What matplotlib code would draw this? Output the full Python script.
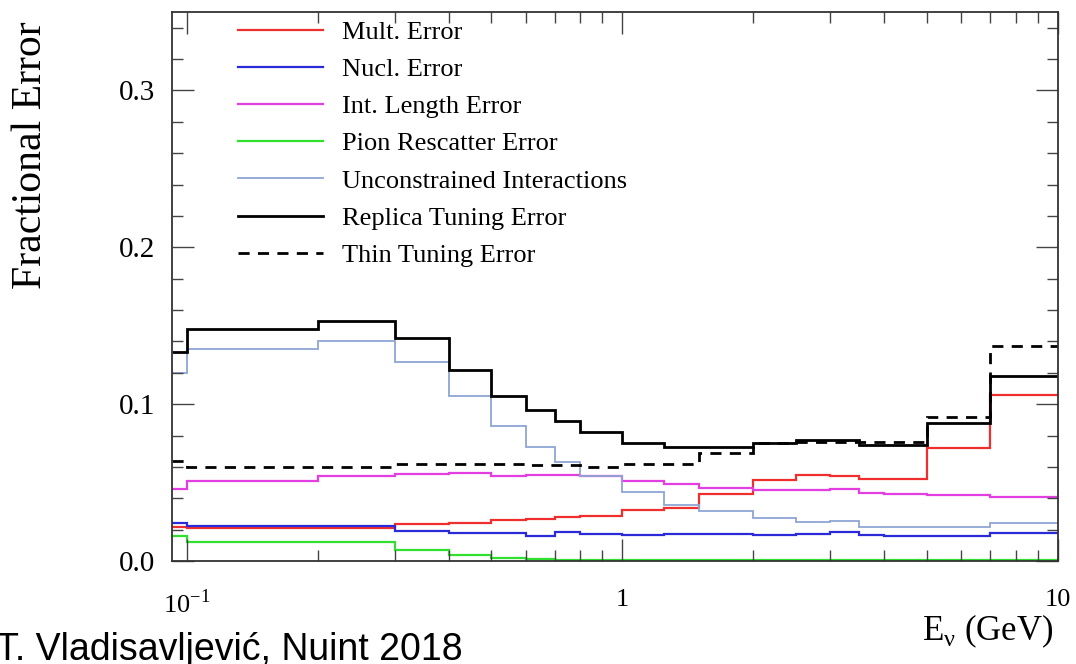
import matplotlib
matplotlib.use("Agg")
import matplotlib.pyplot as plt
from matplotlib.ticker import FixedLocator, FixedFormatter, LogLocator, MultipleLocator, NullFormatter

# bin edges in GeV (first edge is the left end of the axis)
EDGES = [0.0925, 0.1, 0.2, 0.3, 0.4, 0.5, 0.6, 0.7, 0.8, 1.0, 1.25, 1.5,
         2.0, 2.5, 3.0, 3.5, 4.0, 5.0, 7.0, 10.0]

mult_err = [0.0215, 0.021, 0.021, 0.0235, 0.024, 0.026, 0.027, 0.028, 0.029, 0.0325,
            0.034, 0.043, 0.0515, 0.055, 0.054, 0.052, 0.0525, 0.072, 0.106]
nucl_err = [0.024, 0.0225, 0.0225, 0.019, 0.018, 0.018, 0.016, 0.0185, 0.017, 0.0165,
            0.0175, 0.017, 0.0165, 0.017, 0.0185, 0.0165, 0.016, 0.016, 0.018]
int_len_err = [0.046, 0.051, 0.054, 0.0555, 0.056, 0.054, 0.055, 0.055, 0.054, 0.051,
               0.049, 0.0465, 0.045, 0.045, 0.046, 0.0435, 0.043, 0.042, 0.041]
pion_err = [0.016, 0.012, 0.012, 0.007, 0.004, 0.002, 0.0015, 0.001, 0.0008, 0.0006,
            0.0005, 0.0005, 0.0005, 0.0005, 0.0005, 0.0005, 0.0005, 0.0005, 0.0005]
unconstr = [0.120, 0.135, 0.140, 0.127, 0.105, 0.086, 0.073, 0.063, 0.054, 0.044,
            0.036, 0.032, 0.0275, 0.025, 0.0255, 0.022, 0.022, 0.0215, 0.024]
replica = [0.133, 0.148, 0.153, 0.142, 0.122, 0.105, 0.096, 0.089, 0.082, 0.075,
           0.073, 0.073, 0.075, 0.077, 0.077, 0.074, 0.074, 0.088, 0.118]
thin = [0.064, 0.060, 0.060, 0.062, 0.062, 0.062, 0.061, 0.061, 0.060, 0.062,
        0.062, 0.069, 0.075, 0.076, 0.076, 0.076, 0.076, 0.092, 0.137]

SERIES = [
    ("Mult. Error", mult_err, "#f02e2e", 1.6, "-"),
    ("Nucl. Error", nucl_err, "#2a2ad8", 1.6, "-"),
    ("Int. Length Error", int_len_err, "#e23ee2", 1.6, "-"),
    ("Pion Rescatter Error", pion_err, "#2fe02f", 1.6, "-"),
    ("Unconstrained Interactions", unconstr, "#8ea6d4", 1.3, "-"),
    ("Replica Tuning Error", replica, "#000000", 2.0, "-"),
    ("Thin Tuning Error", thin, "#000000", 2.0, (0, (4, 3))),
]

SERIF = ["Liberation Serif", "DejaVu Serif"]

fig = plt.figure(figsize=(10.76, 6.64), dpi=100)
ax = fig.add_axes([0.160, 0.155, 0.823, 0.827])

for label, vals, color, lw, ls in SERIES:
    ax.stairs(vals, EDGES, color=color, linewidth=lw, linestyle=ls, label=label,
              baseline=None)

ax.set_xscale("log")
ax.set_xlim(EDGES[0], EDGES[-1])
ax.set_ylim(0, 0.35)

ax.xaxis.set_major_locator(FixedLocator([0.1, 1, 10]))
ax.xaxis.set_major_formatter(FixedFormatter([r"10$^{\mathregular{-1}}$", "1", "10"]))
ax.xaxis.set_minor_locator(LogLocator(base=10, subs=range(2, 10)))
ax.xaxis.set_minor_formatter(NullFormatter())
ax.yaxis.set_major_locator(MultipleLocator(0.1))
ax.yaxis.set_minor_locator(MultipleLocator(0.02))
ax.yaxis.set_major_formatter(plt.FuncFormatter(lambda v, p: f"{v:.1f}"))

ax.tick_params(which="both", direction="in", top=True, right=True, color="#444444")
ax.tick_params(which="major", length=16, width=1.0)
ax.tick_params(which="minor", length=8, width=1.0)
ax.tick_params(axis="y", which="major", pad=12, labelsize=21)
ax.tick_params(axis="x", which="major", pad=20, labelsize=19)
for lab in ax.get_xticklabels() + ax.get_yticklabels():
    lab.set_family(SERIF)
for sp in ax.spines.values():
    sp.set_linewidth(1.3)
    sp.set_color("#333333")

ax.set_ylabel("Fractional Error", fontsize=30, family=SERIF)
ax.yaxis.set_label_coords(-0.138, 0.74)
fig.text(0.979, 0.036, r"E$_{\mathregular{ν}}$ (GeV)", fontsize=25, family=SERIF,
         ha="right", va="baseline")
fig.text(-0.004, 0.006, "T. Vladisavljević, Nuint 2018", fontsize=27,
         family=["Liberation Sans", "DejaVu Sans"], ha="left", va="baseline")

leg = ax.legend(loc="upper left", bbox_to_anchor=(0.062, 1.004), frameon=False,
                prop={"family": SERIF, "size": 19}, handlelength=3.25,
                handletextpad=0.7, labelspacing=0.52, borderaxespad=0.0)

fig.savefig("out.png", dpi=100)
